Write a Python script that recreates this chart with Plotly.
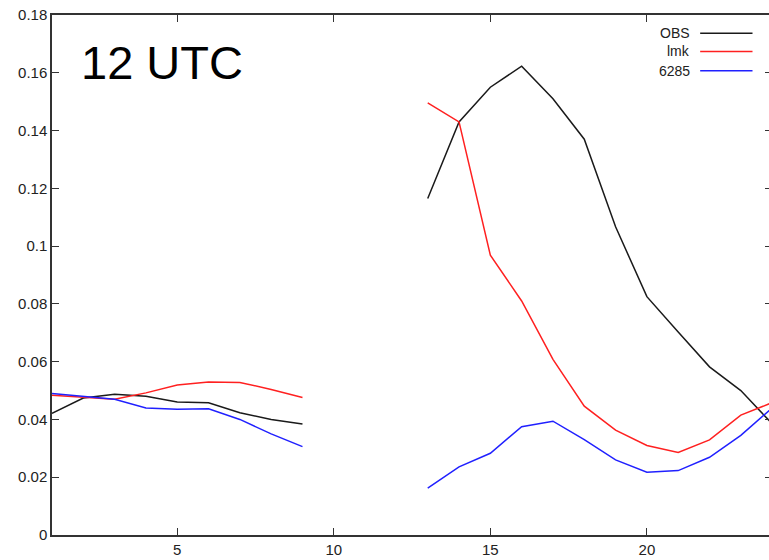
import plotly.graph_objects as go

hours = list(range(1, 25))
obs = [0.0421, 0.0474, 0.0487, 0.0480, 0.0460, 0.0458, 0.0423, 0.0400, 0.0384,
       None, None, None,
       0.1165, 0.1430, 0.1550, 0.1623, 0.1510, 0.1370, 0.1067, 0.0825,
       0.0703, 0.0582, 0.0500, 0.0385]
lmk = [0.0484, 0.0476, 0.0470, 0.0492, 0.0519, 0.0530, 0.0528, 0.0504, 0.0476,
       None, None, None,
       0.1496, 0.1430, 0.0969, 0.0810, 0.0608, 0.0446, 0.0363, 0.0310,
       0.0286, 0.0329, 0.0415, 0.0458]
m6285 = [0.0490, 0.0481, 0.0470, 0.0440, 0.0435, 0.0437, 0.0400, 0.0350, 0.0306,
         None, None, None,
         0.0162, 0.0236, 0.0283, 0.0375, 0.0394, 0.0330, 0.0260, 0.0217,
         0.0223, 0.0269, 0.0345, 0.0440]
series_names = ["OBS", "lmk", "6285"]
series_colors = ["#1a1a1a", "#ff2020", "#2020ff"]
y_ticks = [0, 0.02, 0.04, 0.06, 0.08, 0.1, 0.12, 0.14, 0.16, 0.18]
y_tick_labels = ["0", "0.02", "0.04", "0.06", "0.08", "0.1", "0.12", "0.14", "0.16", "0.18"]
x_ticks = [5, 10, 15, 20]

FONT = "Liberation Sans, Arial, sans-serif"

fig = go.Figure()
for name, vals, col in zip(series_names, [obs, lmk, m6285], series_colors):
    fig.add_trace(go.Scatter(x=hours, y=vals, mode="lines", name=name,
                             line=dict(color=col, width=1.5),
                             connectgaps=False, showlegend=False))

# invisible trace to activate right-side tick axis
fig.add_trace(go.Scatter(x=[None], y=[None], yaxis="y2", showlegend=False))

# custom legend (text left of line, as in the reference)
leg_y = [0.965, 0.930, 0.893]
for name, col, yy in zip(series_names, series_colors, leg_y):
    fig.add_annotation(xref="paper", yref="paper", x=0.892, y=yy, text=name,
                       showarrow=False, xanchor="right", yanchor="middle",
                       font=dict(family=FONT, size=14, color="#222"))
    fig.add_shape(type="line", xref="paper", yref="paper", x0=0.904, x1=0.977,
                  y0=yy, y1=yy, line=dict(color=col, width=1.5))

fig.add_annotation(xref="paper", yref="paper", x=0.038, y=0.9087, text="12 UTC",
                   showarrow=False, xanchor="left", yanchor="middle",
                   font=dict(family=FONT, size=47, color="#000"))

fig.update_layout(
    width=769, height=560,
    margin=dict(l=52, r=0, t=15, b=25),
    paper_bgcolor="white", plot_bgcolor="white",
    font=dict(family=FONT, size=15, color="#222"),
    xaxis=dict(range=[1, 23.9], tickvals=x_ticks, ticks="inside", ticklen=7,
               tickcolor="#333", showline=True, linecolor="#333", linewidth=1.5,
               mirror="ticks", showgrid=False, zeroline=False,
               tickfont=dict(family=FONT, size=15, color="#222")),
    yaxis=dict(range=[0, 0.18], tickvals=y_ticks, ticktext=y_tick_labels,
               ticks="inside", ticklen=7, tickcolor="#333", showline=True,
               linecolor="#333", linewidth=1.5, mirror=False, showgrid=False,
               zeroline=False, tickfont=dict(family=FONT, size=15, color="#222")),
    yaxis2=dict(range=[0, 0.18], tickvals=y_ticks, overlaying="y", side="right",
                ticks="inside", ticklen=4, tickcolor="#333", showline=False,
                showticklabels=False, showgrid=False, zeroline=False),
)

fig.write_html("out.html")
